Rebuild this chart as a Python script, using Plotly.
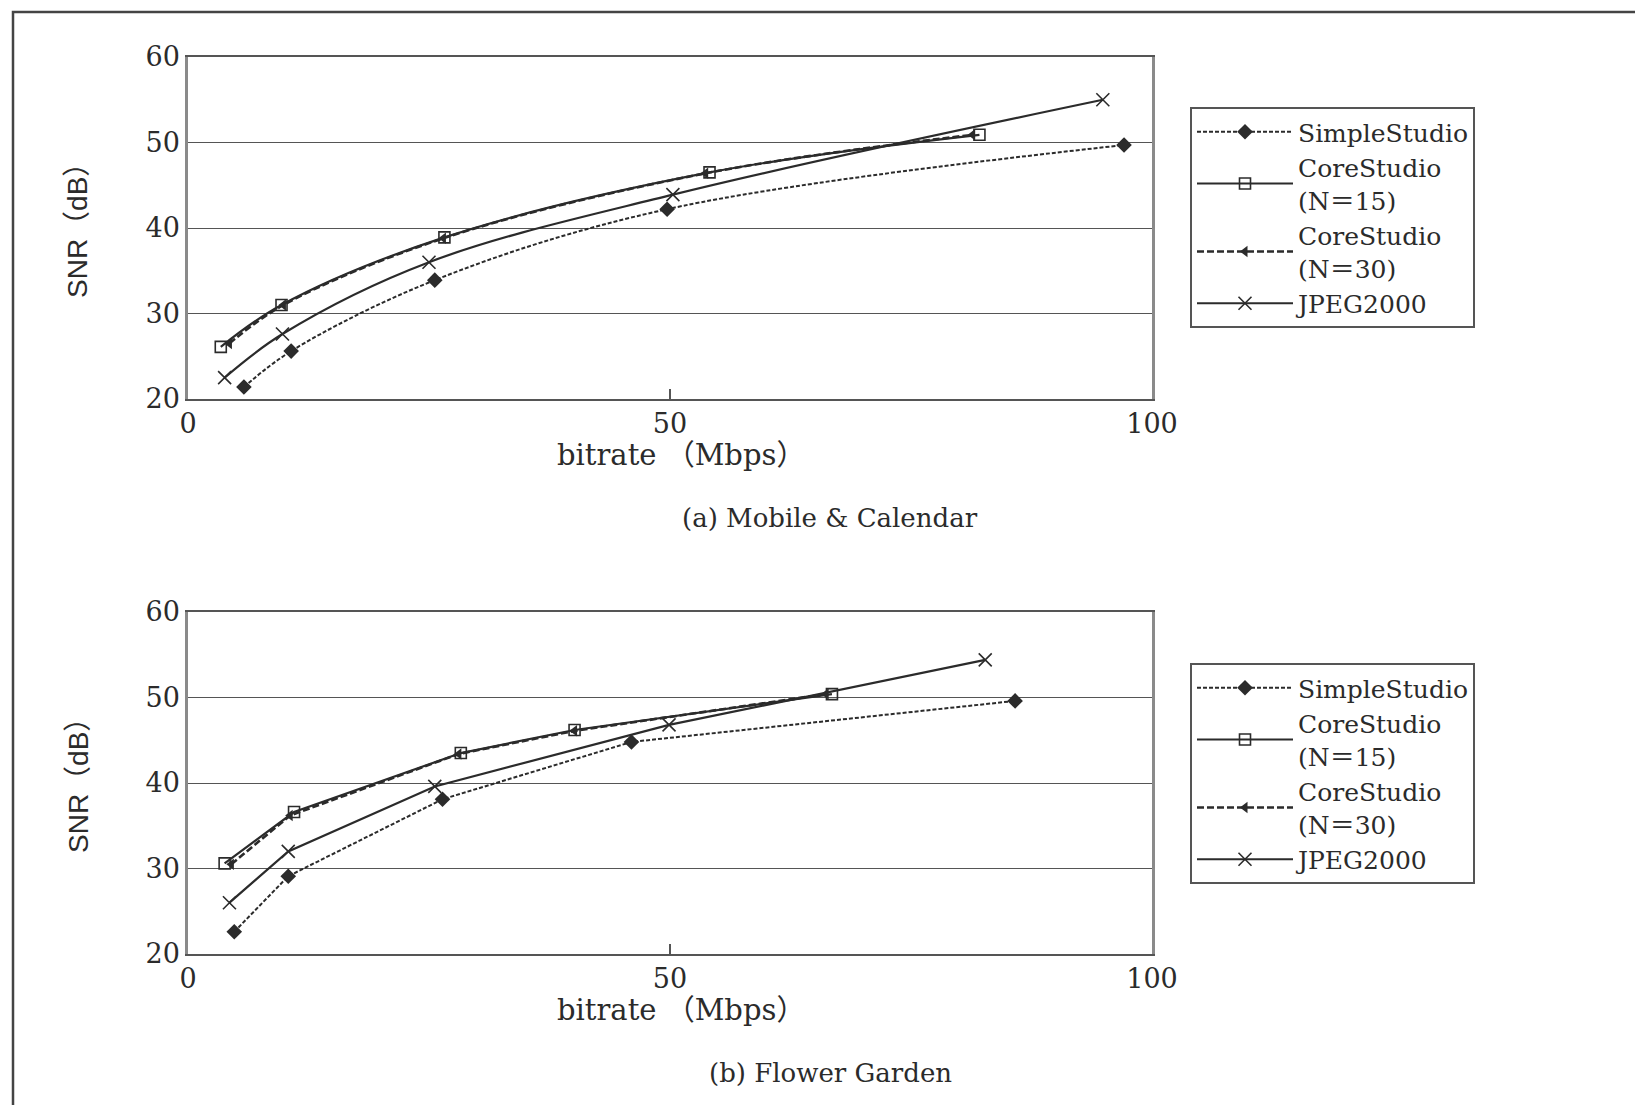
import plotly.graph_objects as go

W, H = 1635, 1105

# ---------------- data ----------------
series_names = ["SimpleStudio", "CoreStudio<br>(N＝15)", "CoreStudio<br>(N＝30)", "JPEG2000"]
x_ticks = [0, 50, 100]
y_ticks = [20, 30, 40, 50, 60]

# (a) Mobile & Calendar
simple_x_a = [5.8, 10.7, 25.6, 49.7, 97.1]
simple_y_a = [21.4, 25.6, 33.9, 42.2, 49.7]
core15_x_a = [3.4, 9.7, 26.6, 54.1, 82.1]
core15_y_a = [26.1, 31.0, 38.9, 46.5, 50.9]
core30_x_a = [4.3, 9.9, 26.5, 53.7, 81.4]
core30_y_a = [26.5, 31.0, 38.8, 46.4, 50.9]
jpeg_x_a = [3.8, 9.8, 25.0, 50.3, 94.9]
jpeg_y_a = [22.5, 27.6, 36.0, 43.9, 55.0]

# (b) Flower Garden
simple_x_b = [4.8, 10.4, 26.4, 46.0, 85.8]
simple_y_b = [22.6, 29.1, 38.1, 44.8, 49.6]
core15_x_b = [3.8, 11.0, 28.3, 40.1, 66.8]
core15_y_b = [30.6, 36.6, 43.5, 46.2, 50.4]
core30_x_b = [4.5, 10.6, 28.1, 40.1, 66.2]
core30_y_b = [30.5, 36.2, 43.4, 46.1, 50.4]
jpeg_x_b = [4.3, 10.4, 25.6, 49.9, 82.7]
jpeg_y_b = [26.0, 32.0, 39.6, 46.8, 54.4]

captions = ["(a) Mobile &amp; Calendar", "(b) Flower Garden"]
x_title = "bitrate （Mbps）"
y_title = "SNR（dB）"

# ---------------- styling ----------------
SERIF = "DejaVu Serif, Liberation Serif, Noto Sans CJK SC, serif"
SANS = "Liberation Sans, Noto Sans CJK SC, sans-serif"
INK = "#2b2b2b"

styles = [
    dict(line=dict(color=INK, width=2.0, dash="4px,2px"),
         marker=dict(symbol="diamond", size=12, color=INK)),
    dict(line=dict(color=INK, width=2.2),
         marker=dict(symbol="square-open", size=11, color=INK, line=dict(width=1.6))),
    dict(line=dict(color=INK, width=2.6, dash="7px,3px"),
         marker=dict(symbol="triangle-left", size=10, color=INK)),
    dict(line=dict(color=INK, width=2.2),
         marker=dict(symbol="x-thin-open", size=13, color=INK, line=dict(width=1.6, color=INK))),
]

def px(x):
    return x / W

def py(y):
    return 1 - y / H

fig = go.Figure()

panels = [
    dict(xs=[simple_x_a, core15_x_a, core30_x_a, jpeg_x_a],
         ys=[simple_y_a, core15_y_a, core30_y_a, jpeg_y_a],
         xa="x", ya="y", legend="legend", shape="spline"),
    dict(xs=[simple_x_b, core15_x_b, core30_x_b, jpeg_x_b],
         ys=[simple_y_b, core15_y_b, core30_y_b, jpeg_y_b],
         xa="x2", ya="y2", legend="legend2", shape="linear"),
]

for p in panels:
    for i, name in enumerate(series_names):
        st = styles[i]
        fig.add_trace(go.Scatter(
            x=p["xs"][i], y=p["ys"][i], name=name, mode="lines+markers",
            line=dict(**st["line"], shape=p["shape"]), marker=st["marker"],
            xaxis=p["xa"], yaxis=p["ya"], legend=p["legend"],
            legendgroup=p["legend"] + str(i),
        ))

# plot area geometry (pixels)
X0, X1 = 188, 1152
TOP = [(57, 399), (612, 954)]

axis_common_x = dict(range=[0, 100], tickvals=x_ticks, showgrid=False, zeroline=False,
                     showline=True, linecolor="#555", linewidth=1.6, mirror=True,
                     ticks="inside", ticklen=10, tickcolor="#555", tickwidth=1.5,
                     tickfont=dict(family=SERIF, size=27, color=INK), automargin=False)
axis_common_y = dict(range=[20, 60], tickvals=y_ticks, showgrid=True, gridcolor="#555",
                     gridwidth=1.4, zeroline=False, showline=True, linecolor="#8a8a8a",
                     linewidth=2.5, mirror=True, ticks="",
                     tickfont=dict(family=SERIF, size=27, color=INK), automargin=False)

dom_x = [px(X0), px(X1)]
layout = dict(
    width=W, height=H, margin=dict(l=0, r=0, t=0, b=0),
    paper_bgcolor="white", plot_bgcolor="white", showlegend=True,
    xaxis=dict(axis_common_x, domain=dom_x, anchor="y"),
    yaxis=dict(axis_common_y, domain=[py(TOP[0][1]), py(TOP[0][0])], anchor="x"),
    xaxis2=dict(axis_common_x, domain=dom_x, anchor="y2"),
    yaxis2=dict(axis_common_y, domain=[py(TOP[1][1]), py(TOP[1][0])], anchor="x2"),
)

legend_common = dict(xanchor="left", yanchor="top", bgcolor="white",
                     bordercolor="#555", borderwidth=2,
                     font=dict(family=SERIF, size=25, color=INK),
                     tracegroupgap=0, itemwidth=96)
layout["legend"] = dict(legend_common, x=px(1190), y=py(107))
layout["legend2"] = dict(legend_common, x=px(1190), y=py(663))
fig.update_layout(**layout)

annotations = []
for k, (t, b) in enumerate(TOP):
    annotations.append(dict(text=x_title, x=px(681), y=py(b + 56), xref="paper", yref="paper",
                            showarrow=False, xanchor="center", yanchor="middle",
                            font=dict(family=SERIF, size=29, color=INK)))
    annotations.append(dict(text=y_title, x=px(78), y=py((t + b) / 2 - 4), xref="paper",
                            yref="paper", showarrow=False, textangle=-90,
                            xanchor="center", yanchor="middle",
                            font=dict(family=SANS, size=28, color=INK)))
    annotations.append(dict(text=captions[k], x=px(830), y=py(b + 119), xref="paper",
                            yref="paper", showarrow=False, xanchor="center", yanchor="middle",
                            font=dict(family=SERIF, size=26, color=INK)))
fig.update_layout(annotations=annotations)

# outer page frame (top and left visible, right/bottom run off the image)
fig.add_shape(type="rect", xref="paper", yref="paper",
              x0=px(13), x1=px(W + 20), y0=py(H + 20), y1=py(12),
              line=dict(color="#444", width=2.5), fillcolor="rgba(0,0,0,0)", layer="below")

fig.write_html("out.html", config={"displayModeBar": False},
               post_script="document.body.style.margin='0';document.body.style.overflow='hidden';")
